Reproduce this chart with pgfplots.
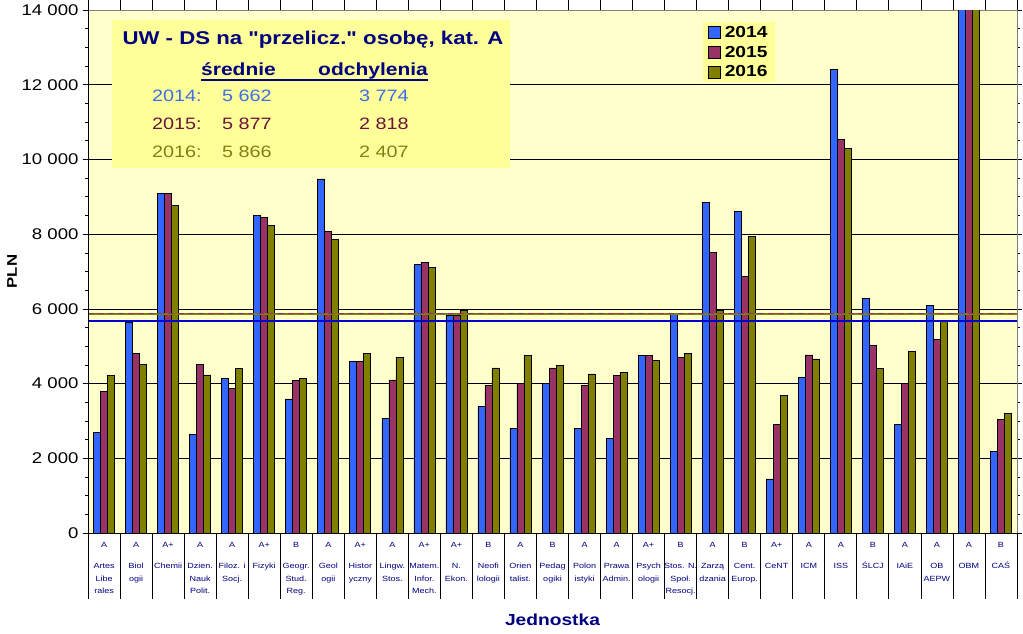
\documentclass[border=0pt]{standalone}
\usepackage{pgfplots}
\pgfplotsset{compat=1.18}
\usepackage{pgfplotstable}
\usepackage{fontspec}
\setmainfont{Liberation Sans}[FakeStretch=1.2]
\newfontfamily\plainfont{Liberation Sans}[FakeStretch=1.2, Ligatures=TeXOff]
\definecolor{bBlue}{RGB}{51,102,255}
\definecolor{bPurple}{RGB}{153,51,102}
\definecolor{bOlive}{RGB}{128,128,0}
\definecolor{plotbg}{RGB}{255,255,204}
\definecolor{boxbg}{RGB}{255,255,153}
\definecolor{navy}{RGB}{0,0,128}
\definecolor{meanblue}{RGB}{0,0,204}
\definecolor{t2014}{RGB}{60,110,240}
\definecolor{t2015}{RGB}{110,20,60}
\definecolor{t2016}{RGB}{128,128,20}

\pgfplotstableread{
x y2014 y2015 y2016
0 2700 3800 4210
1 5640 4800 4520
2 9090 9090 8770
3 2640 4510 4230
4 4140 3880 4410
5 8510 8440 8230
6 3590 4080 4140
7 9480 8070 7850
8 4600 4600 4800
9 3070 4100 4700
10 7180 7250 7110
11 5840 5840 5950
12 3390 3950 4420
13 2810 4000 4750
14 4000 4420 4490
15 2800 3960 4260
16 2530 4210 4300
17 4760 4760 4630
18 5860 4700 4800
19 8840 7510 5960
20 8610 6870 7940
21 1450 2910 3680
22 4170 4770 4660
23 12410 10540 10290
24 6290 5020 4400
25 2910 4010 4860
26 6100 5180 5660
27 18000 17000 16500
28 2180 3050 3200
}\datatable

\pgfplotsset{legsq/.style={legend image code/.code={\draw[fill=#1,draw=black,line width=0.6pt] (0pt,-6pt) rectangle (12pt,6pt);}}}

\begin{document}
\begin{tikzpicture}
\useasboundingbox (-88pt,-100pt) rectangle (935pt,533pt);
\begin{axis}[
  at={(0pt,0pt)}, anchor=south west,
  scale only axis, width=929pt, height=523pt,
  xmin=-0.5, xmax=28.5, ymin=0, ymax=14000,
  axis background/.style={fill=plotbg},
  axis line style={draw=gray, line width=0.8pt},
  ybar=0pt, bar width=7pt,
  ytick={0,2000,...,14000},
  yticklabels={0,2 000,4 000,6 000,8 000,10 000,12 000,14 000},
  minor y tick num=3,
  ymajorgrids, major grid style={black, line width=0.6pt},
  tick align=outside, major tick length=5pt, minor tick length=3pt,
  tick style={black, line width=0.6pt},
  yticklabel style={font=\fontsize{15.5}{16}\selectfont, xshift=-1pt},
  xtick={0,...,28},
  xticklabels={
    {A\\[8.5pt]Artes\\Libe\\rales},
    {A\\[8.5pt]Biol\\ogii},
    {A+\\[8.5pt]Chemii},
    {A\\[8.5pt]Dzien.\\Nauk\\Polit.},
    {A\\[8.5pt]Filoz. i\\Socj.},
    {A+\\[8.5pt]Fizyki},
    {B\\[8.5pt]Geogr.\\Stud.\\Reg.},
    {A\\[8.5pt]Geol\\ogii},
    {A+\\[8.5pt]Histor\\yczny},
    {A\\[8.5pt]Lingw.\\Stos.},
    {A+\\[8.5pt]Matem.\\Infor.\\Mech.},
    {A+\\[8.5pt]N.\\Ekon.},
    {B\\[8.5pt]Neofi\\lologii},
    {A\\[8.5pt]Orien\\talist.},
    {B\\[8.5pt]Pedag\\ogiki},
    {A\\[8.5pt]Polon\\istyki},
    {A\\[8.5pt]Prawa\\Admin.},
    {A+\\[8.5pt]Psych\\ologii},
    {B\\[8.5pt]Stos. N.\\Społ.\\Resocj.},
    {A\\[8.5pt]Zarzą\\dzania},
    {B\\[8.5pt]Cent.\\Europ.},
    {A+\\[8.5pt]CeNT},
    {A\\[8.5pt]ICM},
    {A\\[8.5pt]ISS},
    {B\\[8.5pt]ŚLCJ},
    {A\\[8.5pt]IAiE},
    {A\\[8.5pt]OB\\AEPW},
    {A\\[8.5pt]OBM},
    {B\\[8.5pt]CAŚ}},
  xtick style={draw=none},
  xticklabel style={font=\fontsize{7.5}{12.5}\selectfont, text=navy, align=center, anchor=north, yshift=-1pt},
  extra x ticks={-0.5,0.5,...,28.5},
  extra x tick labels={},
  extra x tick style={major tick length=66pt, xtick style={draw=black, line width=0.8pt}},
  ylabel={PLN},
  every axis y label/.style={at={(axis description cs:-0.0818,0.5)}, rotate=90, anchor=center, font=\bfseries\fontsize{14}{14}\selectfont},
  xlabel={Jednostka},
  every axis x label/.style={at={(axis description cs:0.5,-0.166)}, anchor=center, text=navy, font=\bfseries\fontsize{16}{16}\selectfont},
  legend style={at={(axis description cs:0.662,0.977)}, anchor=north west, fill=boxbg, draw=none,
    font=\bfseries\fontsize{16}{16}\selectfont, inner xsep=5pt, inner ysep=2pt, row sep=3pt,
    column sep=2pt, nodes={inner sep=2pt}},
  legend cell align=left,
]
\addplot[fill=bBlue, draw=black, line width=0.6pt, legsq=bBlue] table[x=x, y=y2014] {\datatable};
\addplot[fill=bPurple, draw=black, line width=0.6pt, legsq=bPurple] table[x=x, y=y2015] {\datatable};
\addplot[fill=bOlive, draw=black, line width=0.6pt, legsq=bOlive] table[x=x, y=y2016] {\datatable};
\legend{2014,2015,2016}
\addplot[sharp plot, bOlive, line width=2pt, forget plot] coordinates {(-0.5,5866) (28.5,5866)};
\addplot[sharp plot, bPurple, line width=1.5pt, dash pattern=on 6pt off 4pt, forget plot] coordinates {(-0.5,5877) (28.5,5877)};
\addplot[sharp plot, meanblue, line width=2pt, forget plot] coordinates {(-0.5,5662) (28.5,5662)};
\draw[black, line width=0.8pt] (rel axis cs:0,0) -- (rel axis cs:0,1);
\draw[black, line width=0.8pt] (rel axis cs:0,0) -- (rel axis cs:1,0);
\end{axis}
% info box
\fill[boxbg] (24pt,365pt) rectangle (422pt,513pt);
\node[anchor=base, text=navy, font=\plainfont\bfseries\fontsize{18.5}{18.5}\selectfont, inner sep=0pt] at (225pt,488pt) {UW - DS na "przelicz." osobę, kat. A};
\node[anchor=base west, text=navy, font=\bfseries\fontsize{17.5}{17.5}\selectfont, inner sep=0pt] at (113pt,457pt) {średnie};
\node[anchor=base west, text=navy, font=\bfseries\fontsize{17.5}{17.5}\selectfont, inner sep=0pt] at (230pt,457pt) {odchylenia};
\draw[navy, line width=1.6pt] (113pt,453pt) -- (340pt,453pt);
\begin{scope}[every node/.style={anchor=base west, inner sep=0pt, font=\fontsize{16.5}{16.5}\selectfont}]
\node[text=t2014] at (64pt,431pt) {2014:};
\node[text=t2014] at (134pt,431pt) {5 662};
\node[text=t2014] at (271pt,431pt) {3 774};
\node[text=t2015] at (64pt,403.5pt) {2015:};
\node[text=t2015] at (134pt,403.5pt) {5 877};
\node[text=t2015] at (271pt,403.5pt) {2 818};
\node[text=t2016] at (64pt,376pt) {2016:};
\node[text=t2016] at (134pt,376pt) {5 866};
\node[text=t2016] at (271pt,376pt) {2 407};
\end{scope}
\end{tikzpicture}
\end{document}
